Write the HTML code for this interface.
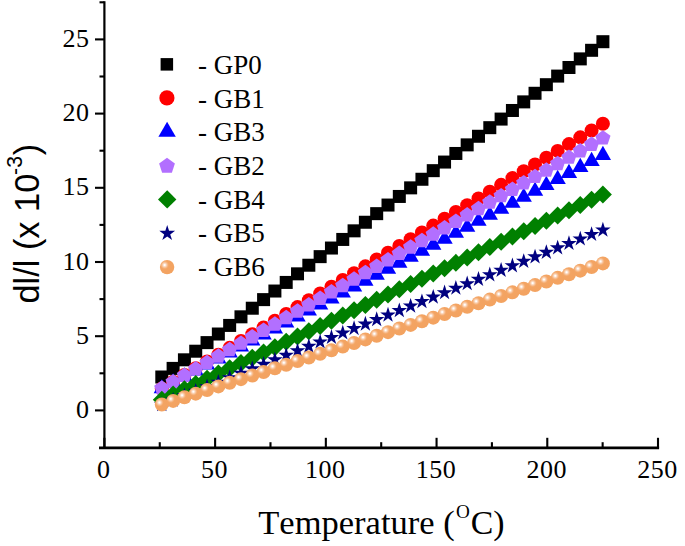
<!DOCTYPE html>
<html><head><meta charset="utf-8"><title>chart</title><style>html,body{margin:0;padding:0;background:#fff;}svg{display:block;}</style></head><body>
<svg width="685" height="546" viewBox="0 0 685 546">
<defs><radialGradient id="ball" cx="0.33" cy="0.355" r="0.5" fx="0.33" fy="0.355"><stop offset="0" stop-color="#ffffff"/><stop offset="0.07" stop-color="#fffefd"/><stop offset="0.2" stop-color="#fbdfca"/><stop offset="0.36" stop-color="#f7c096"/><stop offset="0.5" stop-color="#f5ac6f"/><stop offset="0.6" stop-color="#f3a463"/><stop offset="1" stop-color="#f3a361"/></radialGradient></defs>
<rect width="685" height="546" fill="#fff"/>
<g>
<rect x="155.30" y="370.50" width="13" height="13" fill="#000"/>
<rect x="166.61" y="361.90" width="13" height="13" fill="#000"/>
<rect x="177.92" y="353.31" width="13" height="13" fill="#000"/>
<rect x="189.23" y="344.71" width="13" height="13" fill="#000"/>
<rect x="200.54" y="336.11" width="13" height="13" fill="#000"/>
<rect x="211.85" y="327.51" width="13" height="13" fill="#000"/>
<rect x="223.16" y="318.92" width="13" height="13" fill="#000"/>
<rect x="234.47" y="310.32" width="13" height="13" fill="#000"/>
<rect x="245.78" y="301.72" width="13" height="13" fill="#000"/>
<rect x="257.09" y="293.12" width="13" height="13" fill="#000"/>
<rect x="268.40" y="284.53" width="13" height="13" fill="#000"/>
<rect x="279.71" y="275.93" width="13" height="13" fill="#000"/>
<rect x="291.02" y="267.33" width="13" height="13" fill="#000"/>
<rect x="302.33" y="258.73" width="13" height="13" fill="#000"/>
<rect x="313.64" y="250.14" width="13" height="13" fill="#000"/>
<rect x="324.95" y="241.54" width="13" height="13" fill="#000"/>
<rect x="336.26" y="232.94" width="13" height="13" fill="#000"/>
<rect x="347.57" y="224.34" width="13" height="13" fill="#000"/>
<rect x="358.88" y="215.75" width="13" height="13" fill="#000"/>
<rect x="370.19" y="207.15" width="13" height="13" fill="#000"/>
<rect x="381.51" y="198.55" width="13" height="13" fill="#000"/>
<rect x="392.82" y="189.95" width="13" height="13" fill="#000"/>
<rect x="404.13" y="181.36" width="13" height="13" fill="#000"/>
<rect x="415.44" y="172.76" width="13" height="13" fill="#000"/>
<rect x="426.75" y="164.16" width="13" height="13" fill="#000"/>
<rect x="438.06" y="155.56" width="13" height="13" fill="#000"/>
<rect x="449.37" y="146.97" width="13" height="13" fill="#000"/>
<rect x="460.68" y="138.37" width="13" height="13" fill="#000"/>
<rect x="471.99" y="129.77" width="13" height="13" fill="#000"/>
<rect x="483.30" y="121.17" width="13" height="13" fill="#000"/>
<rect x="494.61" y="112.58" width="13" height="13" fill="#000"/>
<rect x="505.92" y="103.98" width="13" height="13" fill="#000"/>
<rect x="517.23" y="95.38" width="13" height="13" fill="#000"/>
<rect x="528.54" y="86.78" width="13" height="13" fill="#000"/>
<rect x="539.85" y="78.19" width="13" height="13" fill="#000"/>
<rect x="551.16" y="69.59" width="13" height="13" fill="#000"/>
<rect x="562.47" y="60.99" width="13" height="13" fill="#000"/>
<rect x="573.78" y="52.39" width="13" height="13" fill="#000"/>
<rect x="585.09" y="43.80" width="13" height="13" fill="#000"/>
<rect x="596.40" y="35.20" width="13" height="13" fill="#000"/>
</g>
<g>
<circle cx="161.80" cy="388.60" r="7.0" fill="#ff0000"/>
<circle cx="173.11" cy="381.81" r="7.0" fill="#ff0000"/>
<circle cx="184.42" cy="375.02" r="7.0" fill="#ff0000"/>
<circle cx="195.73" cy="368.23" r="7.0" fill="#ff0000"/>
<circle cx="207.04" cy="361.44" r="7.0" fill="#ff0000"/>
<circle cx="218.35" cy="354.64" r="7.0" fill="#ff0000"/>
<circle cx="229.66" cy="347.85" r="7.0" fill="#ff0000"/>
<circle cx="240.97" cy="341.06" r="7.0" fill="#ff0000"/>
<circle cx="252.28" cy="334.27" r="7.0" fill="#ff0000"/>
<circle cx="263.59" cy="327.48" r="7.0" fill="#ff0000"/>
<circle cx="274.90" cy="320.69" r="7.0" fill="#ff0000"/>
<circle cx="286.21" cy="313.90" r="7.0" fill="#ff0000"/>
<circle cx="297.52" cy="307.11" r="7.0" fill="#ff0000"/>
<circle cx="308.83" cy="300.32" r="7.0" fill="#ff0000"/>
<circle cx="320.14" cy="293.53" r="7.0" fill="#ff0000"/>
<circle cx="331.45" cy="286.73" r="7.0" fill="#ff0000"/>
<circle cx="342.76" cy="279.94" r="7.0" fill="#ff0000"/>
<circle cx="354.07" cy="273.15" r="7.0" fill="#ff0000"/>
<circle cx="365.38" cy="266.36" r="7.0" fill="#ff0000"/>
<circle cx="376.69" cy="259.57" r="7.0" fill="#ff0000"/>
<circle cx="388.01" cy="252.78" r="7.0" fill="#ff0000"/>
<circle cx="399.32" cy="245.99" r="7.0" fill="#ff0000"/>
<circle cx="410.63" cy="239.20" r="7.0" fill="#ff0000"/>
<circle cx="421.94" cy="232.41" r="7.0" fill="#ff0000"/>
<circle cx="433.25" cy="225.62" r="7.0" fill="#ff0000"/>
<circle cx="444.56" cy="218.82" r="7.0" fill="#ff0000"/>
<circle cx="455.87" cy="212.03" r="7.0" fill="#ff0000"/>
<circle cx="467.18" cy="205.24" r="7.0" fill="#ff0000"/>
<circle cx="478.49" cy="198.45" r="7.0" fill="#ff0000"/>
<circle cx="489.80" cy="191.66" r="7.0" fill="#ff0000"/>
<circle cx="501.11" cy="184.87" r="7.0" fill="#ff0000"/>
<circle cx="512.42" cy="178.08" r="7.0" fill="#ff0000"/>
<circle cx="523.73" cy="171.29" r="7.0" fill="#ff0000"/>
<circle cx="535.04" cy="164.50" r="7.0" fill="#ff0000"/>
<circle cx="546.35" cy="157.71" r="7.0" fill="#ff0000"/>
<circle cx="557.66" cy="150.91" r="7.0" fill="#ff0000"/>
<circle cx="568.97" cy="144.12" r="7.0" fill="#ff0000"/>
<circle cx="580.28" cy="137.33" r="7.0" fill="#ff0000"/>
<circle cx="591.59" cy="130.54" r="7.0" fill="#ff0000"/>
<circle cx="602.90" cy="123.75" r="7.0" fill="#ff0000"/>
</g>
<g>
<path d="M161.80 379.24L169.95 393.36L153.65 393.36Z" fill="#0000ff"/>
<path d="M173.11 373.26L181.26 387.37L164.96 387.37Z" fill="#0000ff"/>
<path d="M184.42 367.27L192.57 381.39L176.27 381.39Z" fill="#0000ff"/>
<path d="M195.73 361.29L203.88 375.40L187.58 375.40Z" fill="#0000ff"/>
<path d="M207.04 355.30L215.19 369.42L198.89 369.42Z" fill="#0000ff"/>
<path d="M218.35 349.32L226.50 363.44L210.20 363.44Z" fill="#0000ff"/>
<path d="M229.66 343.33L237.81 357.45L221.51 357.45Z" fill="#0000ff"/>
<path d="M240.97 337.35L249.12 351.47L232.82 351.47Z" fill="#0000ff"/>
<path d="M252.28 331.36L260.43 345.48L244.13 345.48Z" fill="#0000ff"/>
<path d="M263.59 325.38L271.74 339.50L255.44 339.50Z" fill="#0000ff"/>
<path d="M274.90 319.40L283.05 333.51L266.75 333.51Z" fill="#0000ff"/>
<path d="M286.21 313.41L294.36 327.53L278.06 327.53Z" fill="#0000ff"/>
<path d="M297.52 307.43L305.67 321.54L289.37 321.54Z" fill="#0000ff"/>
<path d="M308.83 301.44L316.98 315.56L300.68 315.56Z" fill="#0000ff"/>
<path d="M320.14 295.46L328.29 309.57L311.99 309.57Z" fill="#0000ff"/>
<path d="M331.45 289.47L339.60 303.59L323.30 303.59Z" fill="#0000ff"/>
<path d="M342.76 283.49L350.91 297.60L334.61 297.60Z" fill="#0000ff"/>
<path d="M354.07 277.50L362.22 291.62L345.92 291.62Z" fill="#0000ff"/>
<path d="M365.38 271.52L373.53 285.64L357.23 285.64Z" fill="#0000ff"/>
<path d="M376.69 265.53L384.84 279.65L368.54 279.65Z" fill="#0000ff"/>
<path d="M388.01 259.55L396.16 273.67L379.86 273.67Z" fill="#0000ff"/>
<path d="M399.32 253.56L407.47 267.68L391.17 267.68Z" fill="#0000ff"/>
<path d="M410.63 247.58L418.78 261.70L402.48 261.70Z" fill="#0000ff"/>
<path d="M421.94 241.60L430.09 255.71L413.79 255.71Z" fill="#0000ff"/>
<path d="M433.25 235.61L441.40 249.73L425.10 249.73Z" fill="#0000ff"/>
<path d="M444.56 229.63L452.71 243.74L436.41 243.74Z" fill="#0000ff"/>
<path d="M455.87 223.64L464.02 237.76L447.72 237.76Z" fill="#0000ff"/>
<path d="M467.18 217.66L475.33 231.77L459.03 231.77Z" fill="#0000ff"/>
<path d="M478.49 211.67L486.64 225.79L470.34 225.79Z" fill="#0000ff"/>
<path d="M489.80 205.69L497.95 219.80L481.65 219.80Z" fill="#0000ff"/>
<path d="M501.11 199.70L509.26 213.82L492.96 213.82Z" fill="#0000ff"/>
<path d="M512.42 193.72L520.57 207.84L504.27 207.84Z" fill="#0000ff"/>
<path d="M523.73 187.73L531.88 201.85L515.58 201.85Z" fill="#0000ff"/>
<path d="M535.04 181.75L543.19 195.87L526.89 195.87Z" fill="#0000ff"/>
<path d="M546.35 175.76L554.50 189.88L538.20 189.88Z" fill="#0000ff"/>
<path d="M557.66 169.78L565.81 183.90L549.51 183.90Z" fill="#0000ff"/>
<path d="M568.97 163.80L577.12 177.91L560.82 177.91Z" fill="#0000ff"/>
<path d="M580.28 157.81L588.43 171.93L572.13 171.93Z" fill="#0000ff"/>
<path d="M591.59 151.83L599.74 165.94L583.44 165.94Z" fill="#0000ff"/>
<path d="M602.90 145.84L611.05 159.96L594.75 159.96Z" fill="#0000ff"/>
</g>
<g>
<path d="M161.80 380.30L169.41 385.83L166.50 394.77L157.10 394.77L154.19 385.83Z" fill="#b26fff"/>
<path d="M173.11 373.89L180.72 379.41L177.81 388.36L168.41 388.36L165.50 379.41Z" fill="#b26fff"/>
<path d="M184.42 367.47L192.03 373.00L189.12 381.94L179.72 381.94L176.81 373.00Z" fill="#b26fff"/>
<path d="M195.73 361.06L203.34 366.59L200.43 375.53L191.03 375.53L188.12 366.59Z" fill="#b26fff"/>
<path d="M207.04 354.64L214.65 360.17L211.74 369.12L202.34 369.12L199.43 360.17Z" fill="#b26fff"/>
<path d="M218.35 348.23L225.96 353.76L223.05 362.70L213.65 362.70L210.74 353.76Z" fill="#b26fff"/>
<path d="M229.66 341.82L237.27 347.34L234.36 356.29L224.96 356.29L222.05 347.34Z" fill="#b26fff"/>
<path d="M240.97 335.40L248.58 340.93L245.67 349.87L236.27 349.87L233.36 340.93Z" fill="#b26fff"/>
<path d="M252.28 328.99L259.89 334.52L256.98 343.46L247.58 343.46L244.67 334.52Z" fill="#b26fff"/>
<path d="M263.59 322.57L271.20 328.10L268.29 337.05L258.89 337.05L255.98 328.10Z" fill="#b26fff"/>
<path d="M274.90 316.16L282.51 321.69L279.60 330.63L270.20 330.63L267.29 321.69Z" fill="#b26fff"/>
<path d="M286.21 309.74L293.82 315.27L290.92 324.22L281.51 324.22L278.60 315.27Z" fill="#b26fff"/>
<path d="M297.52 303.33L305.13 308.86L302.23 317.80L292.82 317.80L289.91 308.86Z" fill="#b26fff"/>
<path d="M308.83 296.92L316.44 302.44L313.54 311.39L304.13 311.39L301.22 302.44Z" fill="#b26fff"/>
<path d="M320.14 290.50L327.75 296.03L324.85 304.97L315.44 304.97L312.54 296.03Z" fill="#b26fff"/>
<path d="M331.45 284.09L339.06 289.62L336.16 298.56L326.75 298.56L323.85 289.62Z" fill="#b26fff"/>
<path d="M342.76 277.67L350.37 283.20L347.47 292.15L338.06 292.15L335.16 283.20Z" fill="#b26fff"/>
<path d="M354.07 271.26L361.68 276.79L358.78 285.73L349.37 285.73L346.47 276.79Z" fill="#b26fff"/>
<path d="M365.38 264.85L372.99 270.37L370.09 279.32L360.68 279.32L357.78 270.37Z" fill="#b26fff"/>
<path d="M376.69 258.43L384.30 263.96L381.40 272.90L371.99 272.90L369.09 263.96Z" fill="#b26fff"/>
<path d="M388.01 252.02L395.61 257.55L392.71 266.49L383.30 266.49L380.40 257.55Z" fill="#b26fff"/>
<path d="M399.32 245.60L406.92 251.13L404.02 260.08L394.61 260.08L391.71 251.13Z" fill="#b26fff"/>
<path d="M410.63 239.19L418.23 244.72L415.33 253.66L405.92 253.66L403.02 244.72Z" fill="#b26fff"/>
<path d="M421.94 232.78L429.54 238.30L426.64 247.25L417.23 247.25L414.33 238.30Z" fill="#b26fff"/>
<path d="M433.25 226.36L440.85 231.89L437.95 240.83L428.54 240.83L425.64 231.89Z" fill="#b26fff"/>
<path d="M444.56 219.95L452.16 225.48L449.26 234.42L439.85 234.42L436.95 225.48Z" fill="#b26fff"/>
<path d="M455.87 213.53L463.48 219.06L460.57 228.01L451.16 228.01L448.26 219.06Z" fill="#b26fff"/>
<path d="M467.18 207.12L474.79 212.65L471.88 221.59L462.47 221.59L459.57 212.65Z" fill="#b26fff"/>
<path d="M478.49 200.71L486.10 206.23L483.19 215.18L473.78 215.18L470.88 206.23Z" fill="#b26fff"/>
<path d="M489.80 194.29L497.41 199.82L494.50 208.76L485.10 208.76L482.19 199.82Z" fill="#b26fff"/>
<path d="M501.11 187.88L508.72 193.40L505.81 202.35L496.41 202.35L493.50 193.40Z" fill="#b26fff"/>
<path d="M512.42 181.46L520.03 186.99L517.12 195.93L507.72 195.93L504.81 186.99Z" fill="#b26fff"/>
<path d="M523.73 175.05L531.34 180.58L528.43 189.52L519.03 189.52L516.12 180.58Z" fill="#b26fff"/>
<path d="M535.04 168.63L542.65 174.16L539.74 183.11L530.34 183.11L527.43 174.16Z" fill="#b26fff"/>
<path d="M546.35 162.22L553.96 167.75L551.05 176.69L541.65 176.69L538.74 167.75Z" fill="#b26fff"/>
<path d="M557.66 155.81L565.27 161.33L562.36 170.28L552.96 170.28L550.05 161.33Z" fill="#b26fff"/>
<path d="M568.97 149.39L576.58 154.92L573.67 163.86L564.27 163.86L561.36 154.92Z" fill="#b26fff"/>
<path d="M580.28 142.98L587.89 148.51L584.98 157.45L575.58 157.45L572.67 148.51Z" fill="#b26fff"/>
<path d="M591.59 136.56L599.20 142.09L596.29 151.04L586.89 151.04L583.98 142.09Z" fill="#b26fff"/>
<path d="M602.90 130.15L610.51 135.68L607.60 144.62L598.20 144.62L595.29 135.68Z" fill="#b26fff"/>
</g>
<g>
<path d="M161.80 390.80L170.80 399.80L161.80 408.80L152.80 399.80Z" fill="#008000"/>
<path d="M173.11 385.53L182.11 394.53L173.11 403.53L164.11 394.53Z" fill="#008000"/>
<path d="M184.42 380.27L193.42 389.27L184.42 398.27L175.42 389.27Z" fill="#008000"/>
<path d="M195.73 375.00L204.73 384.00L195.73 393.00L186.73 384.00Z" fill="#008000"/>
<path d="M207.04 369.73L216.04 378.73L207.04 387.73L198.04 378.73Z" fill="#008000"/>
<path d="M218.35 364.47L227.35 373.47L218.35 382.47L209.35 373.47Z" fill="#008000"/>
<path d="M229.66 359.20L238.66 368.20L229.66 377.20L220.66 368.20Z" fill="#008000"/>
<path d="M240.97 353.93L249.97 362.93L240.97 371.93L231.97 362.93Z" fill="#008000"/>
<path d="M252.28 348.67L261.28 357.67L252.28 366.67L243.28 357.67Z" fill="#008000"/>
<path d="M263.59 343.40L272.59 352.40L263.59 361.40L254.59 352.40Z" fill="#008000"/>
<path d="M274.90 338.13L283.90 347.13L274.90 356.13L265.90 347.13Z" fill="#008000"/>
<path d="M286.21 332.87L295.21 341.87L286.21 350.87L277.21 341.87Z" fill="#008000"/>
<path d="M297.52 327.60L306.52 336.60L297.52 345.60L288.52 336.60Z" fill="#008000"/>
<path d="M308.83 322.33L317.83 331.33L308.83 340.33L299.83 331.33Z" fill="#008000"/>
<path d="M320.14 317.07L329.14 326.07L320.14 335.07L311.14 326.07Z" fill="#008000"/>
<path d="M331.45 311.80L340.45 320.80L331.45 329.80L322.45 320.80Z" fill="#008000"/>
<path d="M342.76 306.53L351.76 315.53L342.76 324.53L333.76 315.53Z" fill="#008000"/>
<path d="M354.07 301.27L363.07 310.27L354.07 319.27L345.07 310.27Z" fill="#008000"/>
<path d="M365.38 296.00L374.38 305.00L365.38 314.00L356.38 305.00Z" fill="#008000"/>
<path d="M376.69 290.73L385.69 299.73L376.69 308.73L367.69 299.73Z" fill="#008000"/>
<path d="M388.01 285.47L397.01 294.47L388.01 303.47L379.01 294.47Z" fill="#008000"/>
<path d="M399.32 280.20L408.32 289.20L399.32 298.20L390.32 289.20Z" fill="#008000"/>
<path d="M410.63 274.93L419.63 283.93L410.63 292.93L401.63 283.93Z" fill="#008000"/>
<path d="M421.94 269.67L430.94 278.67L421.94 287.67L412.94 278.67Z" fill="#008000"/>
<path d="M433.25 264.40L442.25 273.40L433.25 282.40L424.25 273.40Z" fill="#008000"/>
<path d="M444.56 259.13L453.56 268.13L444.56 277.13L435.56 268.13Z" fill="#008000"/>
<path d="M455.87 253.87L464.87 262.87L455.87 271.87L446.87 262.87Z" fill="#008000"/>
<path d="M467.18 248.60L476.18 257.60L467.18 266.60L458.18 257.60Z" fill="#008000"/>
<path d="M478.49 243.33L487.49 252.33L478.49 261.33L469.49 252.33Z" fill="#008000"/>
<path d="M489.80 238.07L498.80 247.07L489.80 256.07L480.80 247.07Z" fill="#008000"/>
<path d="M501.11 232.80L510.11 241.80L501.11 250.80L492.11 241.80Z" fill="#008000"/>
<path d="M512.42 227.53L521.42 236.53L512.42 245.53L503.42 236.53Z" fill="#008000"/>
<path d="M523.73 222.27L532.73 231.27L523.73 240.27L514.73 231.27Z" fill="#008000"/>
<path d="M535.04 217.00L544.04 226.00L535.04 235.00L526.04 226.00Z" fill="#008000"/>
<path d="M546.35 211.73L555.35 220.73L546.35 229.73L537.35 220.73Z" fill="#008000"/>
<path d="M557.66 206.47L566.66 215.47L557.66 224.47L548.66 215.47Z" fill="#008000"/>
<path d="M568.97 201.20L577.97 210.20L568.97 219.20L559.97 210.20Z" fill="#008000"/>
<path d="M580.28 195.93L589.28 204.93L580.28 213.93L571.28 204.93Z" fill="#008000"/>
<path d="M591.59 190.67L600.59 199.67L591.59 208.67L582.59 199.67Z" fill="#008000"/>
<path d="M602.90 185.40L611.90 194.40L602.90 203.40L593.90 194.40Z" fill="#008000"/>
</g>
<g>
<path d="M161.80 396.40L163.64 402.07L169.60 402.07L164.78 405.57L166.62 411.23L161.80 407.73L156.98 411.23L158.82 405.57L154.00 402.07L159.96 402.07Z" fill="#000080"/>
<path d="M173.11 391.92L174.95 397.59L180.91 397.59L176.09 401.09L177.93 406.76L173.11 403.26L168.29 406.76L170.13 401.09L165.31 397.59L171.27 397.59Z" fill="#000080"/>
<path d="M184.42 387.45L186.26 393.11L192.22 393.11L187.40 396.61L189.24 402.28L184.42 398.78L179.60 402.28L181.44 396.61L176.62 393.11L182.58 393.11Z" fill="#000080"/>
<path d="M195.73 382.97L197.57 388.64L203.53 388.64L198.71 392.14L200.55 397.80L195.73 394.30L190.91 397.80L192.75 392.14L187.93 388.64L193.89 388.64Z" fill="#000080"/>
<path d="M207.04 378.49L208.88 384.16L214.84 384.16L210.02 387.66L211.86 393.33L207.04 389.82L202.22 393.33L204.06 387.66L199.24 384.16L205.20 384.16Z" fill="#000080"/>
<path d="M218.35 374.02L220.19 379.68L226.15 379.68L221.33 383.18L223.17 388.85L218.35 385.35L213.53 388.85L215.37 383.18L210.55 379.68L216.51 379.68Z" fill="#000080"/>
<path d="M229.66 369.54L231.50 375.20L237.46 375.20L232.64 378.71L234.48 384.37L229.66 380.87L224.84 384.37L226.68 378.71L221.86 375.20L227.82 375.20Z" fill="#000080"/>
<path d="M240.97 365.06L242.81 370.73L248.77 370.73L243.95 374.23L245.79 379.90L240.97 376.39L236.15 379.90L237.99 374.23L233.17 370.73L239.13 370.73Z" fill="#000080"/>
<path d="M252.28 360.58L254.12 366.25L260.08 366.25L255.26 369.75L257.10 375.42L252.28 371.92L247.46 375.42L249.30 369.75L244.48 366.25L250.44 366.25Z" fill="#000080"/>
<path d="M263.59 356.11L265.43 361.77L271.39 361.77L266.57 365.28L268.41 370.94L263.59 367.44L258.77 370.94L260.61 365.28L255.79 361.77L261.75 361.77Z" fill="#000080"/>
<path d="M274.90 351.63L276.74 357.30L282.70 357.30L277.88 360.80L279.72 366.46L274.90 362.96L270.08 366.46L271.92 360.80L267.10 357.30L273.06 357.30Z" fill="#000080"/>
<path d="M286.21 347.15L288.05 352.82L294.01 352.82L289.19 356.32L291.03 361.99L286.21 358.49L281.39 361.99L283.23 356.32L278.41 352.82L284.37 352.82Z" fill="#000080"/>
<path d="M297.52 342.68L299.36 348.34L305.32 348.34L300.50 351.84L302.34 357.51L297.52 354.01L292.70 357.51L294.54 351.84L289.72 348.34L295.68 348.34Z" fill="#000080"/>
<path d="M308.83 338.20L310.67 343.87L316.63 343.87L311.81 347.37L313.65 353.03L308.83 349.53L304.01 353.03L305.85 347.37L301.03 343.87L306.99 343.87Z" fill="#000080"/>
<path d="M320.14 333.72L321.98 339.39L327.94 339.39L323.12 342.89L324.96 348.56L320.14 345.06L315.32 348.56L317.16 342.89L312.34 339.39L318.30 339.39Z" fill="#000080"/>
<path d="M331.45 329.25L333.30 334.91L339.25 334.91L334.43 338.41L336.27 344.08L331.45 340.58L326.63 344.08L328.47 338.41L323.66 334.91L329.61 334.91Z" fill="#000080"/>
<path d="M342.76 324.77L344.61 330.44L350.56 330.44L345.74 333.94L347.58 339.60L342.76 336.10L337.94 339.60L339.79 333.94L334.97 330.44L340.92 330.44Z" fill="#000080"/>
<path d="M354.07 320.29L355.92 325.96L361.87 325.96L357.05 329.46L358.89 335.13L354.07 331.62L349.25 335.13L351.10 329.46L346.28 325.96L352.23 325.96Z" fill="#000080"/>
<path d="M365.38 315.82L367.23 321.48L373.18 321.48L368.36 324.98L370.20 330.65L365.38 327.15L360.56 330.65L362.41 324.98L357.59 321.48L363.54 321.48Z" fill="#000080"/>
<path d="M376.69 311.34L378.54 317.00L384.49 317.00L379.67 320.51L381.51 326.17L376.69 322.67L371.88 326.17L373.72 320.51L368.90 317.00L374.85 317.00Z" fill="#000080"/>
<path d="M388.01 306.86L389.85 312.53L395.80 312.53L390.98 316.03L392.82 321.70L388.01 318.19L383.19 321.70L385.03 316.03L380.21 312.53L386.16 312.53Z" fill="#000080"/>
<path d="M399.32 302.38L401.16 308.05L407.11 308.05L402.29 311.55L404.14 317.22L399.32 313.72L394.50 317.22L396.34 311.55L391.52 308.05L397.47 308.05Z" fill="#000080"/>
<path d="M410.63 297.91L412.47 303.57L418.42 303.57L413.60 307.08L415.45 312.74L410.63 309.24L405.81 312.74L407.65 307.08L402.83 303.57L408.78 303.57Z" fill="#000080"/>
<path d="M421.94 293.43L423.78 299.10L429.73 299.10L424.91 302.60L426.76 308.26L421.94 304.76L417.12 308.26L418.96 302.60L414.14 299.10L420.09 299.10Z" fill="#000080"/>
<path d="M433.25 288.95L435.09 294.62L441.04 294.62L436.23 298.12L438.07 303.79L433.25 300.29L428.43 303.79L430.27 298.12L425.45 294.62L431.40 294.62Z" fill="#000080"/>
<path d="M444.56 284.48L446.40 290.14L452.36 290.14L447.54 293.64L449.38 299.31L444.56 295.81L439.74 299.31L441.58 293.64L436.76 290.14L442.72 290.14Z" fill="#000080"/>
<path d="M455.87 280.00L457.71 285.67L463.67 285.67L458.85 289.17L460.69 294.83L455.87 291.33L451.05 294.83L452.89 289.17L448.07 285.67L454.03 285.67Z" fill="#000080"/>
<path d="M467.18 275.52L469.02 281.19L474.98 281.19L470.16 284.69L472.00 290.36L467.18 286.86L462.36 290.36L464.20 284.69L459.38 281.19L465.34 281.19Z" fill="#000080"/>
<path d="M478.49 271.05L480.33 276.71L486.29 276.71L481.47 280.21L483.31 285.88L478.49 282.38L473.67 285.88L475.51 280.21L470.69 276.71L476.65 276.71Z" fill="#000080"/>
<path d="M489.80 266.57L491.64 272.24L497.60 272.24L492.78 275.74L494.62 281.40L489.80 277.90L484.98 281.40L486.82 275.74L482.00 272.24L487.96 272.24Z" fill="#000080"/>
<path d="M501.11 262.09L502.95 267.76L508.91 267.76L504.09 271.26L505.93 276.93L501.11 273.42L496.29 276.93L498.13 271.26L493.31 267.76L499.27 267.76Z" fill="#000080"/>
<path d="M512.42 257.62L514.26 263.28L520.22 263.28L515.40 266.78L517.24 272.45L512.42 268.95L507.60 272.45L509.44 266.78L504.62 263.28L510.58 263.28Z" fill="#000080"/>
<path d="M523.73 253.14L525.57 258.80L531.53 258.80L526.71 262.31L528.55 267.97L523.73 264.47L518.91 267.97L520.75 262.31L515.93 258.80L521.89 258.80Z" fill="#000080"/>
<path d="M535.04 248.66L536.88 254.33L542.84 254.33L538.02 257.83L539.86 263.50L535.04 259.99L530.22 263.50L532.06 257.83L527.24 254.33L533.20 254.33Z" fill="#000080"/>
<path d="M546.35 244.18L548.19 249.85L554.15 249.85L549.33 253.35L551.17 259.02L546.35 255.52L541.53 259.02L543.37 253.35L538.55 249.85L544.51 249.85Z" fill="#000080"/>
<path d="M557.66 239.71L559.50 245.37L565.46 245.37L560.64 248.88L562.48 254.54L557.66 251.04L552.84 254.54L554.68 248.88L549.86 245.37L555.82 245.37Z" fill="#000080"/>
<path d="M568.97 235.23L570.81 240.90L576.77 240.90L571.95 244.40L573.79 250.06L568.97 246.56L564.15 250.06L565.99 244.40L561.17 240.90L567.13 240.90Z" fill="#000080"/>
<path d="M580.28 230.75L582.12 236.42L588.08 236.42L583.26 239.92L585.10 245.59L580.28 242.09L575.46 245.59L577.30 239.92L572.48 236.42L578.44 236.42Z" fill="#000080"/>
<path d="M591.59 226.28L593.43 231.94L599.39 231.94L594.57 235.44L596.41 241.11L591.59 237.61L586.77 241.11L588.61 235.44L583.79 231.94L589.75 231.94Z" fill="#000080"/>
<path d="M602.90 221.80L604.74 227.47L610.70 227.47L605.88 230.97L607.72 236.63L602.90 233.13L598.08 236.63L599.92 230.97L595.10 227.47L601.06 227.47Z" fill="#000080"/>
</g>
<g>
<circle cx="161.80" cy="404.50" r="7.0" fill="url(#ball)"/>
<circle cx="173.11" cy="400.88" r="7.0" fill="url(#ball)"/>
<circle cx="184.42" cy="397.26" r="7.0" fill="url(#ball)"/>
<circle cx="195.73" cy="393.65" r="7.0" fill="url(#ball)"/>
<circle cx="207.04" cy="390.03" r="7.0" fill="url(#ball)"/>
<circle cx="218.35" cy="386.41" r="7.0" fill="url(#ball)"/>
<circle cx="229.66" cy="382.79" r="7.0" fill="url(#ball)"/>
<circle cx="240.97" cy="379.17" r="7.0" fill="url(#ball)"/>
<circle cx="252.28" cy="375.56" r="7.0" fill="url(#ball)"/>
<circle cx="263.59" cy="371.94" r="7.0" fill="url(#ball)"/>
<circle cx="274.90" cy="368.32" r="7.0" fill="url(#ball)"/>
<circle cx="286.21" cy="364.70" r="7.0" fill="url(#ball)"/>
<circle cx="297.52" cy="361.08" r="7.0" fill="url(#ball)"/>
<circle cx="308.83" cy="357.47" r="7.0" fill="url(#ball)"/>
<circle cx="320.14" cy="353.85" r="7.0" fill="url(#ball)"/>
<circle cx="331.45" cy="350.23" r="7.0" fill="url(#ball)"/>
<circle cx="342.76" cy="346.61" r="7.0" fill="url(#ball)"/>
<circle cx="354.07" cy="342.99" r="7.0" fill="url(#ball)"/>
<circle cx="365.38" cy="339.38" r="7.0" fill="url(#ball)"/>
<circle cx="376.69" cy="335.76" r="7.0" fill="url(#ball)"/>
<circle cx="388.01" cy="332.14" r="7.0" fill="url(#ball)"/>
<circle cx="399.32" cy="328.52" r="7.0" fill="url(#ball)"/>
<circle cx="410.63" cy="324.91" r="7.0" fill="url(#ball)"/>
<circle cx="421.94" cy="321.29" r="7.0" fill="url(#ball)"/>
<circle cx="433.25" cy="317.67" r="7.0" fill="url(#ball)"/>
<circle cx="444.56" cy="314.05" r="7.0" fill="url(#ball)"/>
<circle cx="455.87" cy="310.43" r="7.0" fill="url(#ball)"/>
<circle cx="467.18" cy="306.82" r="7.0" fill="url(#ball)"/>
<circle cx="478.49" cy="303.20" r="7.0" fill="url(#ball)"/>
<circle cx="489.80" cy="299.58" r="7.0" fill="url(#ball)"/>
<circle cx="501.11" cy="295.96" r="7.0" fill="url(#ball)"/>
<circle cx="512.42" cy="292.34" r="7.0" fill="url(#ball)"/>
<circle cx="523.73" cy="288.73" r="7.0" fill="url(#ball)"/>
<circle cx="535.04" cy="285.11" r="7.0" fill="url(#ball)"/>
<circle cx="546.35" cy="281.49" r="7.0" fill="url(#ball)"/>
<circle cx="557.66" cy="277.87" r="7.0" fill="url(#ball)"/>
<circle cx="568.97" cy="274.25" r="7.0" fill="url(#ball)"/>
<circle cx="580.28" cy="270.64" r="7.0" fill="url(#ball)"/>
<circle cx="591.59" cy="267.02" r="7.0" fill="url(#ball)"/>
<circle cx="602.90" cy="263.40" r="7.0" fill="url(#ball)"/>
</g>
<g stroke="#000" fill="none" stroke-linecap="butt">
<path stroke-width="2.2" d="M104.4 1.30V449.10"/>
<path stroke-width="2.6" d="M99.00 447.90H659.10"/>
<g stroke-width="2.1">
<path d="M95.00 410.40H104.4"/>
<path d="M95.00 336.20H104.4"/>
<path d="M95.00 262.00H104.4"/>
<path d="M95.00 187.80H104.4"/>
<path d="M95.00 113.60H104.4"/>
<path d="M95.00 39.40H104.4"/>
<path d="M99.50 373.30H104.4"/>
<path d="M99.50 299.10H104.4"/>
<path d="M99.50 224.90H104.4"/>
<path d="M99.50 150.70H104.4"/>
<path d="M99.50 76.50H104.4"/>
<path d="M99.50 2.30H104.4"/>
<path d="M104.40 447.90V437.80"/>
<path d="M215.12 447.90V437.80"/>
<path d="M325.84 447.90V437.80"/>
<path d="M436.56 447.90V437.80"/>
<path d="M547.28 447.90V437.80"/>
<path d="M658.00 447.90V437.80"/>
<path d="M159.76 447.90V442.20"/>
<path d="M270.48 447.90V442.20"/>
<path d="M381.20 447.90V442.20"/>
<path d="M491.92 447.90V442.20"/>
<path d="M602.64 447.90V442.20"/>
</g></g>
<g font-family="'Liberation Serif', serif" font-size="26" letter-spacing="0.5" fill="#000">
<text x="89.4" y="418.00" text-anchor="end">0</text>
<text x="89.4" y="343.80" text-anchor="end">5</text>
<text x="89.4" y="269.60" text-anchor="end">10</text>
<text x="89.4" y="195.40" text-anchor="end">15</text>
<text x="89.4" y="121.20" text-anchor="end">20</text>
<text x="89.4" y="47.00" text-anchor="end">25</text>
<text x="103.80" y="478.1" text-anchor="middle">0</text>
<text x="214.52" y="478.1" text-anchor="middle">50</text>
<text x="325.24" y="478.1" text-anchor="middle">100</text>
<text x="435.96" y="478.1" text-anchor="middle">150</text>
<text x="546.68" y="478.1" text-anchor="middle">200</text>
<text x="657.40" y="478.1" text-anchor="middle">250</text>
</g>
<g font-family="'Liberation Serif', serif" font-size="27" fill="#000">
<text x="198" y="73.80">- GP0</text>
<text x="198" y="107.50">- GB1</text>
<text x="198" y="141.20">- GB3</text>
<text x="198" y="174.90">- GB2</text>
<text x="198" y="208.60">- GB4</text>
<text x="198" y="242.30">- GB5</text>
<text x="198" y="276.00">- GB6</text>
</g>
<rect x="160.60" y="58.10" width="12.5" height="12.5" fill="#000"/>
<circle cx="166.90" cy="97.90" r="7.6" fill="#ff0000"/>
<path d="M167.10 121.77L175.80 136.83L158.40 136.83Z" fill="#0000ff"/>
<path d="M167.00 157.70L174.89 163.44L171.88 172.71L162.12 172.71L159.11 163.44Z" fill="#b26fff"/>
<path d="M167.20 190.20L176.40 199.40L167.20 208.60L158.00 199.40Z" fill="#008000"/>
<path d="M167.20 225.10L169.06 230.83L175.09 230.84L170.22 234.38L172.08 240.11L167.20 236.57L162.32 240.11L164.18 234.38L159.31 230.84L165.34 230.83Z" fill="#000080"/>
<circle cx="167.10" cy="267.10" r="7.2" fill="url(#ball)"/>
<text x="258.3" y="533.9" font-family="'Liberation Serif', serif" font-size="34.5" fill="#000" style="font-kerning:none">Temperature (<tspan font-size="19.2" dx="1.4" dy="-16.4">O</tspan><tspan font-size="33.8" dx="0.9" dy="16.4">C)</tspan></text>
<text transform="translate(39.2 303.6) rotate(-90)" font-family="'Liberation Sans', sans-serif" font-size="34.4" fill="#000">dl/l (x 10<tspan font-size="21.2" dx="-1.3" dy="-17.4">-3</tspan><tspan dx="0.8" dy="17.4">)</tspan></text>
</svg>
</body></html>
